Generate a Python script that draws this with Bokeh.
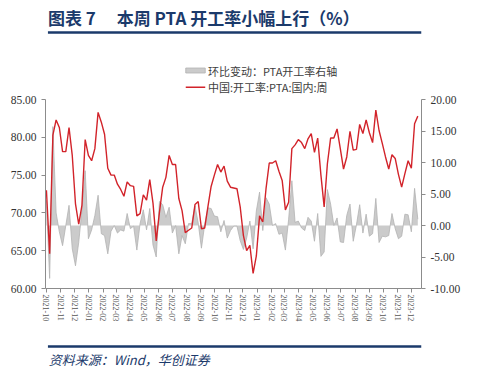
import datetime as dt
import pandas as pd
from bokeh.plotting import figure
from bokeh.layouts import column
from bokeh.models import (Range1d, LinearAxis, FixedTicker, NumeralTickFormatter,
                          DatetimeTickFormatter, MonthsTicker, ColumnDataSource)
from bokeh.core.properties import value
from bokeh.embed import file_html
from bokeh.resources import INLINE

# ---------------- data ----------------
start_date = "2021-10-01"          # first weekly observation
pta_rate = [  # 中国:开工率:PTA:国内:周 (left axis, %)
    73.0, 64.6, 80.3, 82.3, 81.3, 78.1, 78.1, 81.3, 77.6, 71.2,
    68.5, 71.0, 79.7, 77.6, 76.9, 78.5, 83.3, 82.0, 80.4, 75.9,
    75.0, 75.0, 73.8, 73.1, 72.2, 74.1, 73.6, 73.5, 69.6, 69.9,
    72.4, 71.7, 74.4, 71.3, 66.3, 70.1, 73.4, 74.7, 77.6, 76.4,
    76.4, 71.9, 70.3, 67.4, 67.7, 68.0, 71.1, 71.5, 67.9, 68.0,
    70.8, 73.5, 75.0, 76.4, 75.4, 76.2, 74.2, 73.4, 73.3, 73.2,
    70.8, 67.0, 65.0, 65.7, 62.0, 64.3, 69.6, 68.8, 73.2, 76.6,
    76.6, 76.9, 75.5, 74.3, 70.4, 71.4, 78.5, 79.0, 79.7, 79.3,
    78.5, 79.8, 80.5, 78.0, 79.9, 75.0, 70.8, 76.5, 79.9, 79.9,
    81.1, 78.5, 75.8, 77.4, 80.8, 78.3, 78.4, 81.7, 80.5, 82.3,
    80.6, 79.3, 83.6, 80.9, 79.2, 77.4, 75.8, 77.7, 77.2, 75.1,
    73.4, 75.2, 76.9, 75.9, 81.8, 82.8,
]
wow_change = [  # 环比变动 (right axis, pct-pt)
    4.0, -8.4, 15.7, 2.0, -1.0, -3.2, 0.0, 3.2, -3.7, -6.4,
    -2.7, 2.5, 8.7, -2.1, -0.7, 1.6, 4.8, -1.3, -1.6, -4.5,
    -0.9, 0.0, -1.2, -0.7, -0.9, 1.9, -0.5, -0.1, -3.9, 0.3,
    2.5, -0.7, 2.7, -3.1, -5.0, 3.8, 3.3, 1.3, 2.9, -1.2,
    0.0, -4.5, -1.6, -2.9, 0.3, 0.3, 3.1, 0.4, -3.6, 0.1,
    2.8, 2.7, 1.5, 1.4, -1.0, 0.8, -2.0, -0.8, -0.1, -0.1,
    -2.4, -3.8, -2.0, 0.7, -3.7, 2.3, 5.3, -0.8, 4.4, 3.4,
    0.0, 0.3, -1.4, -1.2, -3.9, 1.0, 7.1, 0.5, 0.7, -0.4,
    -0.8, 1.3, 0.7, -2.5, 1.9, -4.9, -4.2, 5.7, 3.4, 0.0,
    1.2, -2.6, -2.7, 1.6, 3.4, -2.5, 0.1, 3.3, -1.2, 1.8,
    -1.7, -1.3, 4.3, -2.7, -1.7, -1.8, -1.6, 1.9, -0.5, -2.1,
    -1.7, 1.8, 1.7, -1.0, 5.9, 1.0,
]
left_ticks = [60, 65, 70, 75, 80, 85]
right_ticks = [-10, -5, 0, 5, 10, 15, 20]
title_text = "图表 7\u3000 本周 PTA 开工率小幅上行（%）"
legend_labels = ["环比变动：PTA开工率右轴", "中国:开工率:PTA:国内:周"]
source_text = "资料来源：Wind，华创证券"

dates = pd.date_range(start_date, periods=len(pta_rate), freq="7D")
src = ColumnDataSource(dict(date=dates, rate=pta_rate, chg=wow_change))

NAVY = "#1B3A6B"
RED = "#D2232A"
GRAY_FILL = "#CBCBCB"
GRAY_EDGE = "#B3B3B3"
AXIS_GRAY = "#8C8C8C"
SERIF = "Liberation Serif"
CJK = "Noto Sans CJK SC"
W = 463


def blank_panel(height, y_top):
    """A canvas-sized frame whose data units are page pixels (y downwards)."""
    f = figure(width=W, height=height, x_range=Range1d(0, W),
               y_range=Range1d(y_top + height, y_top),
               output_backend="svg", toolbar_location=None,
               x_axis_location=None, y_axis_location=None,
               min_border=0, min_border_left=0, min_border_right=0,
               min_border_top=0, min_border_bottom=0)
    f.outline_line_color = None
    f.xgrid.visible = False
    f.ygrid.visible = False
    f.background_fill_color = "white"
    f.border_fill_color = "white"
    return f


# ---------------- header: title, rule, legend ----------------
head = blank_panel(95, 0)
head.text(x=[3], y=[17], text=[title_text], text_font=value(CJK),
          text_font_style="bold", text_font_size="17px", text_color=NAVY,
          text_baseline="middle", text_align="left")
head.segment(x0=[3], y0=[32], x1=[W], y1=[32], line_color=NAVY, line_width=2.5)
# legend entries
head.rect(x=[184.7], y=[70], width=24, height=5, fill_color=GRAY_FILL,
          line_color=GRAY_EDGE, line_width=0.8)
head.segment(x0=[172.7], y0=[86.7], x1=[196.7], y1=[86.7], line_color=RED,
             line_width=1.4)
head.text(x=[200, 200], y=[70, 86.7], text=legend_labels, text_font=value(CJK),
          text_font_size="11px", text_color="#404040", text_baseline="middle",
          text_align="left")

# ---------------- main chart ----------------
p = figure(width=W, height=245, x_axis_type="datetime",
           x_range=Range1d(dt.datetime(2021, 9, 29), dt.datetime(2023, 12, 23)),
           y_range=Range1d(60, 85),
           output_backend="svg", toolbar_location=None,
           min_border_left=45, min_border_right=38,
           min_border_top=4, min_border_bottom=52)
p.outline_line_color = None
p.xgrid.visible = False
p.ygrid.visible = False
p.background_fill_color = "white"
p.border_fill_color = "white"

p.extra_y_ranges = {"chg": Range1d(-10, 20)}

p.varea(x="date", y1=0, y2="chg", source=src, y_range_name="chg",
        fill_color=GRAY_FILL, fill_alpha=1.0)
p.line(x="date", y="chg", source=src, y_range_name="chg",
       line_color=GRAY_EDGE, line_width=0.8)
p.line(x="date", y="rate", source=src, line_color=RED, line_width=1.4)

ya = p.yaxis[0]
ya.ticker = FixedTicker(ticks=left_ticks)
ya.formatter = NumeralTickFormatter(format="0.00")
ra = LinearAxis(y_range_name="chg")
ra.ticker = FixedTicker(ticks=right_ticks)
ra.formatter = NumeralTickFormatter(format="0.00")
p.add_layout(ra, "right")

for ax in (ya, ra):
    ax.axis_line_color = AXIS_GRAY
    ax.major_tick_line_color = AXIS_GRAY
    ax.major_tick_out = 4
    ax.major_tick_in = 0
    ax.minor_tick_line_color = None
    ax.major_label_text_font = SERIF
    ax.major_label_text_font_size = "11.5px"
    ax.major_label_text_color = "#333333"
    ax.major_label_standoff = 5

xa = p.xaxis[0]
xa.ticker = MonthsTicker(months=list(range(12)))
fmt = "%Y-%m"
xa.formatter = DatetimeTickFormatter(months=fmt, days=fmt, years=fmt, hours=fmt,
                                     minutes=fmt, seconds=fmt, milliseconds=fmt,
                                     microseconds=fmt, minsec=fmt, hourmin=fmt)
xa.major_label_orientation = "vertical"
xa.axis_line_color = AXIS_GRAY
xa.major_tick_line_color = AXIS_GRAY
xa.major_tick_out = 4
xa.major_tick_in = 0
xa.minor_tick_line_color = None
xa.major_label_text_font = SERIF
xa.major_label_text_font_size = "8px"
xa.major_label_text_color = "#555555"
xa.major_label_standoff = 2

# ---------------- footer: rule and source ----------------
foot = blank_panel(27, 340)
foot.segment(x0=[3], y0=[346], x1=[W], y1=[346], line_color=NAVY, line_width=2.5)
foot.text(x=[4], y=[358.5], text=[source_text], text_font=value(CJK),
          text_font_style="italic", text_font_size="13px", text_color=NAVY,
          text_baseline="middle", text_align="left")

layout = column(head, p, foot, spacing=0)
open("out.html", "w").write(file_html(layout, INLINE))
